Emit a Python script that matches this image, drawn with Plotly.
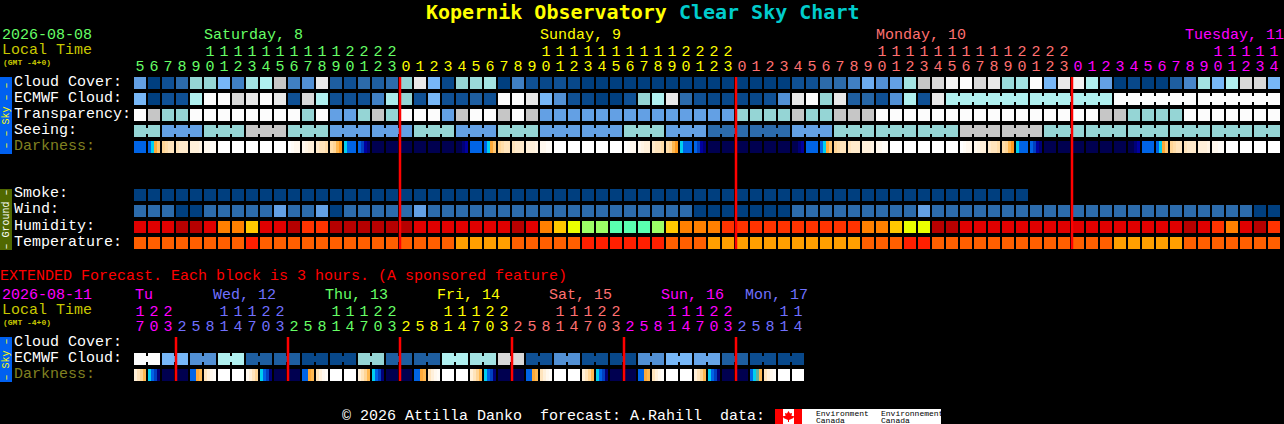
import numpy as np
import plotly.graph_objects as go

# chart values. cloud style rows are percent cloud
CLOUD = [40, 0, 10, 20, 60, 60, 50, 30, 65, 70,
         80, 30, 35, 90, 15, 10, 20, 15, 20, 60,
         90, 50, 5, 60, 62, 65, 0, 30, 10, 5,
         10, 5, 0, 0, 0, 0, 0, 0, 0, 0,
         0, 0, 0, 0, 0, 0, 0, 10, 10, 20,
         20, 30, 45, 35, 40, 65, 80, 85, 95, 100,
         85, 90, 62, 65, 100, 50, 90, 95, 70, 40,
         0, 5, 0, 0, 15, 32, 65, 50, 70, 85, 85, 50]
ECMWF = [50, 0, 10, 10, 70, 100, 100, 85, 90, 100,
         90, 10, 85, 70, 10, 10, 10, 30, 68, 60,
         10, 50, 10, 10, 15, 10, 100, 100, 90, 50,
         35, 10, 5, 0, 0, 10, 60, 70, 90, 20,
         10, 5, 5, 5, 5, 10, 35, 90, 100, 60,
         90, 15, 18, 10, 35, 70, 10, 90, 70, 70,
         70, 70, 70, 70, 70, 70, 70, 70, 70, 70,
         100, 100, 100, 100, 100, 100, 100, 100, 100, 100, 100, 100]
ECMWF_GROUPS = [1] * 58 + [6, 6, 6, 6]
TRANSPARENCY = [100, 80, 60, 60, 100, 100, 100, 100, 100, 100,
                100, 100, 60, 100, 40, 40, 60, 80, 60, 100,
                100, 100, 40, 80, 100, 100, 80, 100, 80, 40,
                40, 40, 40, 40, 40, 40, 40, 40, 40, 40,
                40, 40, 40, 60, 60, 60, 60, 80, 60, 60,
                80, 80, 80, 100, 100, 100, 100, 100, 100, 100,
                100, 100, 100, 100, 100, 100, 100, 100, 100, 80,
                80, 60, 60, 60, 60, 100, 100, 100, 100, 100, 100, 100]
SEEING = [60, 40, 60, 80, 60, 40, 40,
          60, 40, 60, 40, 40, 60, 40,
          20, 20, 40, 60, 60, 60, 80,
          80, 60, 60, 60, 60, 60, 60]
SEEING_GROUPS = [2] + [3] * 26 + [2]
SMOKE = [0] * 64 + [None] * 18
WIND = [20, 20, 20, 0, 0, 20, 20, 20, 20, 20,
        40, 20, 20, 40, 0, 20, 20, 20, 20, 20,
        40, 20, 20, 20, 20, 20, 20, 20, 20, 20,
        20, 20, 20, 20, 20, 20, 20, 20, 20, 20,
        0, 0, 0, 0, 0, 0, 0, 20, 20, 20,
        20, 20, 20, 20, 20, 20, 40, 20, 20, 20,
        20, 20, 20, 20, 20, 20, 20, 20, 20, 20,
        20, 20, 20, 20, 20, 20, 20, 20, 20, 20, 0, 0]
HUMIDITY = [92, 92, 92, 97, 97, 92, 82, 82, 77, 92,
            92, 97, 87, 87, 97, 97, 97, 97, 97, 97,
            92, 92, 92, 92, 92, 92, 92, 97, 92, 82,
            77, 72, 67, 67, 62, 62, 62, 67, 77, 82,
            82, 82, 87, 87, 87, 87, 87, 87, 87, 87,
            87, 87, 82, 82, 77, 72, 72, 97, 97, 92,
            92, 92, 92, 92, 92, 92, 92, 92, 92, 92,
            92, 92, 92, 92, 92, 97, 92, 87, 82, 92, 97, 87]
TEMPERATURE = [25, 25, 25, 25, 25, 25, 25, 25, 29, 25,
               25, 25, 25, 25, 25, 25, 25, 25, 25, 25,
               25, 25, 25, 21, 21, 21, 21, 25, 25, 25,
               25, 25, 29, 29, 29, 29, 29, 29, 25, 25,
               25, 21, 21, 21, 21, 21, 21, 21, 21, 21,
               21, 21, 25, 25, 25, 29, 29, 25, 25, 25,
               25, 25, 25, 25, 25, 25, 25, 25, 25, 25,
               21, 21, 21, 21, 21, 25, 25, 25, 25, 25, 25, 25]
# limiting magnitude, four readings across each block
DARKNESS = [(4, 4, 4, 4), (4, 3, 1.5, 0.5), (0, -0.5, -1, -1), (-1, -1.5, -1.5, -1.5), (-2, -2, -2, -2.5),
            (-3, -3, -3.5, -3.5), (-4, -4, -4, -4), (-4, -4, -4, -4), (-4, -4, -4, -4), (-4, -4, -4, -4),
            (-4, -4, -4, -4), (-4, -3.5, -3, -3), (-3, -2.5, -2, -2), (-1.5, -1, -1, -0.5), (-0.5, 0, 1, 2),
            (3, 4, 4, 4), (4, 4.5, 5, 5.5), (6, 6, 6, 6), (6, 6, 6, 6), (6, 6, 6, 6),
            (6, 6, 6, 6), (6, 6, 6, 6), (6, 6, 6, 6), (6, 6, 5.5, 5), (4, 4, 4, 4),
            (4, 3, 1.5, 0.5), (0, -0.5, -1, -1), (-1, -1.5, -1.5, -1.5), (-2, -2, -2, -2.5), (-3, -3, -3.5, -3.5),
            (-4, -4, -4, -4), (-4, -4, -4, -4), (-4, -4, -4, -4), (-4, -4, -4, -4), (-4, -4, -4, -4),
            (-4, -3.5, -3, -3), (-3, -2.5, -2, -2), (-1.5, -1, -1, -0.5), (-0.5, 0, 1, 2), (3, 4, 4, 4),
            (4, 4.5, 5, 5.5), (6, 6, 6, 6), (6, 6, 6, 6), (6, 6, 6, 6), (6, 6, 6, 6),
            (6, 6, 6, 6), (6, 6, 6, 6), (6, 6, 5.5, 5), (4, 4, 4, 4), (4, 3, 1.5, 0.5),
            (0, -0.5, -1, -1), (-1, -1.5, -1.5, -1.5), (-2, -2, -2, -2.5), (-3, -3, -3.5, -3.5), (-4, -4, -4, -4),
            (-4, -4, -4, -4), (-4, -4, -4, -4), (-4, -4, -4, -4), (-4, -4, -4, -4), (-4, -3.5, -3, -3),
            (-3, -2.5, -2, -2), (-1.5, -1, -1, -0.5), (-0.5, 0, 1, 2), (3, 4, 4, 4), (4, 4.5, 5, 5.5),
            (6, 6, 6, 6), (6, 6, 6, 6), (6, 6, 6, 6), (6, 6, 6, 6), (6, 6, 6, 6),
            (6, 6, 6, 6), (6, 6, 5.5, 5), (4, 4, 4, 4), (4, 3, 1.5, 0.5), (0, -0.5, -1, -1),
            (-1, -1.5, -1.5, -1.5), (-2, -2, -2, -2.5), (-3, -3, -3.5, -3.5), (-4, -4, -4, -4), (-4, -4, -4, -4),
            (-4, -4, -4, -4), (-4, -4, -4, -4)]
HOURS = [5, 6, 7, 8, 9, 10, 11, 12, 13, 14, 15, 16, 17, 18, 19, 20, 21, 22, 23,
         0, 1, 2, 3, 4, 5, 6, 7, 8, 9, 10, 11, 12, 13, 14, 15, 16, 17, 18, 19, 20, 21, 22, 23,
         0, 1, 2, 3, 4, 5, 6, 7, 8, 9, 10, 11, 12, 13, 14, 15, 16, 17, 18, 19, 20, 21, 22, 23,
         0, 1, 2, 3, 4, 5, 6, 7, 8, 9, 10, 11, 12, 13, 14]
DAY_LENGTHS = [19, 24, 24, 15]
DAY_COLORS = ["#66ff66", "#ffff00", "#ff7070", "#ff00ff"]
DAY_NAMES = ["Saturday, 8", "Sunday, 9", "Monday, 10", "Tuesday, 11"]
DAY_NAME_PX = [204, 540, 876, 1185]
MIDNIGHTS = [19, 43, 67]

EXT_ECMWF = [100, 50, 35, 70, 15, 15, 5, 5, 60, 15, 15, 70,
             65, 85, 10, 35, 8, 5, 35, 50, 42, 15, 8, 5]
EXT_GROUPS = [2] * 24
EXT_DARKNESS = [(-2, -1, 0, 1), (3, 4, 4.5, 5.5), (6, 6, 6, 6), (6, 6, 6, 6), (4, 4, 1.5, 1), (-1, -2, -3, -3.5), (-4, -4, -4, -4), (-4, -4, -4, -4),
                (-3, -2, -1, 0), (3, 4, 4.5, 5.5), (6, 6, 6, 6), (6, 6, 6, 6), (4, 4, 1.5, 1), (-1, -2, -3, -3.5), (-4, -4, -4, -4), (-4, -4, -4, -4),
                (-2, -1, 0, 1), (3, 4, 4.5, 5.5), (6, 6, 6, 6), (6, 6, 6, 6), (4, 4, 1.5, 1), (-1, -2, -3, -3.5), (-4, -4, -4, -4), (-4, -4, -4, -4),
                (-2, -1, 0, 1), (3, 4, 4.5, 5.5), (6, 6, 6, 6), (6, 6, 6, 6), (4, 4, 1.5, 1), (-1, -2, -3, -3.5), (-4, -4, -4, -4), (-4, -4, -4, -4),
                (-2, -1, 0, 1), (3, 4, 4.5, 5.5), (6, 6, 6, 6), (6, 6, 6, 6), (4, 4, 1.5, 1), (-1, -2, -3, -3.5), (-4, -4, -4, -4), (-4, -4, -4, -4),
                (-2, -1, 0, 1), (3, 4, 4.5, 5.5), (6, 6, 6, 6), (6, 6, 6, 6), (4, 3, 2.5, 1), (-1, -2, -3, -3.5), (-4, -4, -4, -4), (-4, -4, -4, -4)]
EXT_HOURS = [17, 20, 23,
             2, 5, 8, 11, 14, 17, 20, 23,
             2, 5, 8, 11, 14, 17, 20, 23,
             2, 5, 8, 11, 14, 17, 20, 23,
             2, 5, 8, 11, 14, 17, 20, 23,
             2, 5, 8, 11, 14, 17, 20, 23,
             2, 5, 8, 11, 14]
EXT_DAY_LENGTHS = [3, 8, 8, 8, 8, 8, 5]
EXT_DAY_COLORS = ["#ff00ff", "#7070ff", "#66ff66", "#ffff00", "#ff7070", "#ff00ff", "#7070ff"]
EXT_DAY_NAMES = ["Tu", "Wed, 12", "Thu, 13", "Fri, 14", "Sat, 15", "Sun, 16", "Mon, 17"]
EXT_DAY_NAME_PX = [135, 213, 325, 437, 549, 661, 745]
EXT_MIDNIGHTS = [3, 11, 19, 27, 35, 43]

SKY_SCALE = [[0.0, "#003f7f"], [0.1, "#0f5094"], [0.2, "#2c6bab"], [0.3, "#4080c4"], [0.4, "#63a0e4"],
             [0.5, "#77b7f7"], [0.6, "#95d5d5"], [0.7, "#b0f0f0"], [0.8, "#c6c6c6"], [0.9, "#e9e9e9"], [1.0, "#fcfcfc"]]
HUMIDITY_STOPS = [(62, "#5affb0"), (67, "#9cff66"), (72, "#eaff00"), (77, "#ffc800"),
                  (82, "#ff8000"), (87, "#ff3300"), (92, "#e00000"), (97, "#b60000")]
TEMPERATURE_STOPS = [(21, "#ff9f00"), (25, "#ff5f00"), (29, "#ff1f00")]
DARKNESS_STOPS = [(-4, "#ffffff"), (-3, "#fff8ee"), (-2, "#fff0da"), (-1, "#ffe4bc"), (0, "#ffd596"),
                  (1, "#ffb850"), (2, "#ff9a20"), (2.5, "#60b0a0"), (3, "#00d0f0"), (3.5, "#0090f0"),
                  (4, "#0064e6"), (4.5, "#0040c0"), (5, "#0000a0"), (5.5, "#000078"), (6, "#000050")]

WIDTH = 1284
HEIGHT = 424
FONT = "Liberation Mono"
TITLE_FONT = "DejaVu Sans Mono"
PITCH = 14        # block pitch, pixels
ROW_H = 16        # row pitch, pixels
FIRST_X = 140     # centre of the first block, pixels
FIRST_Y = 83      # centre of the first row, pixels


def to_row(py):
    return (py - FIRST_Y) / ROW_H


def to_block(px):
    return (px - FIRST_X) / PITCH


def stops_to_scale(stops):
    low, high = stops[0][0], stops[-1][0]
    return [[(v - low) / (high - low), c] for v, c in stops], low, high


def block_row(fig, values, row, scale, zmin, zmax, groups=None):
    # one heatmap per row, one cell per pixel so blocks stay crisp
    # values may hold a number per block or a tuple of readings across a block
    z = np.full((12, 14 * len(values)), np.nan)
    for i, value in enumerate(values):
        if value is None:
            continue
        readings = value if isinstance(value, tuple) else (value,)
        for j in range(12):
            z[:, i * 14 + j] = readings[j * len(readings) // 12]
    if groups:
        # blocks of one forecast step are joined by a short bridge
        start = 0
        for size in groups:
            for i in range(start, start + size - 1):
                z[3:9, i * 14 + 12:i * 14 + 14] = values[i]
            start += size
    fig.add_trace(go.Heatmap(
        z=z,
        x0=-5.5 / PITCH,
        dx=1 / PITCH,
        y0=row - 5.5 / ROW_H,
        dy=1 / ROW_H,
        colorscale=scale,
        zmin=zmin,
        zmax=zmax,
        showscale=False,
        hoverinfo="skip",
    ))


def expand(values, groups):
    out = []
    for value, size in zip(values, groups):
        out += [value] * size
    return out


def label(fig, px, py, text, color, size=15, bold=False, angle=0, anchor="left", family=FONT):
    if bold:
        text = "<b>" + text + "</b>"
    if anchor == "left":
        px -= 1
    fig.add_annotation(
        x=px / WIDTH,
        y=1 - py / HEIGHT,
        xref="paper",
        yref="paper",
        text=text,
        showarrow=False,
        xanchor=anchor,
        yanchor="middle",
        textangle=angle,
        borderpad=0,
        font=dict(family=family, size=size, color=color),
    )


def hour_digits(fig, hours, day_lengths, day_colors, tens_py, units_py):
    colors = []
    for n, c in zip(day_lengths, day_colors):
        colors += [c] * n
    blocks = list(range(len(hours)))
    fig.add_trace(go.Scatter(
        x=blocks,
        y=[to_row(tens_py + 2)] * len(hours),
        mode="text",
        text=[str(h // 10) if h >= 10 else "" for h in hours],
        textposition="middle center",
        textfont=dict(family=FONT, size=15, color=colors),
        hoverinfo="skip",
    ))
    fig.add_trace(go.Scatter(
        x=blocks,
        y=[to_row(units_py + 2)] * len(hours),
        mode="text",
        text=[str(h % 10) for h in hours],
        textposition="middle center",
        textfont=dict(family=FONT, size=15, color=colors),
        hoverinfo="skip",
    ))


def midnight_lines(fig, midnights, top_py, bottom_py):
    xs, ys = [], []
    for m in midnights:
        xs += [m - 0.5 + 1 / PITCH, m - 0.5 + 1 / PITCH, None]
        ys += [to_row(top_py), to_row(bottom_py), None]
    fig.add_trace(go.Scatter(x=xs, y=ys, mode="lines", line=dict(color="#ff0000", width=2.5), hoverinfo="skip"))


def rect(fig, x0, y0, x1, y1, color):
    fig.add_shape(type="rect", xref="paper", yref="paper", layer="below",
                  x0=x0 / WIDTH, x1=x1 / WIDTH, y0=1 - y0 / HEIGHT, y1=1 - y1 / HEIGHT,
                  fillcolor=color, line=dict(width=0))


fig = go.Figure()

humidity_scale, hum_low, hum_high = stops_to_scale(HUMIDITY_STOPS)
temp_scale, temp_low, temp_high = stops_to_scale(TEMPERATURE_STOPS)
dark_scale, dark_low, dark_high = stops_to_scale(DARKNESS_STOPS)

# main forecast
block_row(fig, CLOUD, 0, SKY_SCALE, 0, 100)
block_row(fig, ECMWF, 1, SKY_SCALE, 0, 100, ECMWF_GROUPS)
block_row(fig, TRANSPARENCY, 2, SKY_SCALE, 0, 100)
block_row(fig, expand(SEEING, SEEING_GROUPS), 3, SKY_SCALE, 0, 100, SEEING_GROUPS)
block_row(fig, DARKNESS, 4, dark_scale, dark_low, dark_high)
block_row(fig, SMOKE, 7, SKY_SCALE, 0, 100)
block_row(fig, WIND, 8, SKY_SCALE, 0, 100)
block_row(fig, HUMIDITY, 9, humidity_scale, hum_low, hum_high)
block_row(fig, TEMPERATURE, 10, temp_scale, temp_low, temp_high)

# extended forecast
block_row(fig, expand(EXT_ECMWF, EXT_GROUPS), to_row(359), SKY_SCALE, 0, 100, EXT_GROUPS)
block_row(fig, EXT_DARKNESS, to_row(375), dark_scale, dark_low, dark_high)

midnight_lines(fig, MIDNIGHTS, 77, 249)
midnight_lines(fig, EXT_MIDNIGHTS, 337, 381)
hour_digits(fig, HOURS, DAY_LENGTHS, DAY_COLORS, 50, 65)
hour_digits(fig, EXT_HOURS, EXT_DAY_LENGTHS, EXT_DAY_COLORS, 310, 325)

# title
label(fig, 426, 12,
      '<span style="color:#ffff00">Kopernik Observatory</span> <span style="color:#00cccc">Clear Sky Chart</span>',
      "#ffff00", size=20, bold=True, family=TITLE_FONT)

# left hand header texts
label(fig, 2, 35.5, "2026-08-08", "#66ff66")
label(fig, 2, 50.5, "Local Time", "#c8c800")
label(fig, 3, 62, "(GMT -4+0)", "#c8c800", size=8, bold=True)
for name, px, color in zip(DAY_NAMES, DAY_NAME_PX, DAY_COLORS):
    label(fig, px, 35.5, name, color)

label(fig, 2, 295.5, "2026-08-11", "#ff00ff")
label(fig, 2, 310.5, "Local Time", "#c8c800")
label(fig, 3, 322, "(GMT -4+0)", "#c8c800", size=8, bold=True)
for name, px, color in zip(EXT_DAY_NAMES, EXT_DAY_NAME_PX, EXT_DAY_COLORS):
    label(fig, px, 295.5, name, color)

# row names
for py, text, color in [(82, "Cloud Cover:", "#ffffff"), (98, "ECMWF Cloud:", "#ffffff"),
                        (114, "Transparency:", "#ffffff"), (130, "Seeing:", "#ffffff"),
                        (146, "Darkness:", "#808020"), (194, "Smoke:", "#ffffff"),
                        (210, "Wind:", "#ffffff"), (226, "Humidity:", "#ffffff"),
                        (242, "Temperature:", "#ffffff"), (342, "Cloud Cover:", "#ffffff"),
                        (358, "ECMWF Cloud:", "#ffffff"), (374, "Darkness:", "#808020")]:
    label(fig, 14, py, text, color)

# side tabs
rect(fig, 0, 77, 12, 154, "#0060f0")
rect(fig, 0, 189, 12, 250, "#506800")
rect(fig, 0, 337, 12, 382, "#0060f0")
label(fig, 6, 115.5, "\u2013 \u2013 Sky \u2013 \u2013", "#ffff00", size=10, angle=-90, anchor="center")
label(fig, 6, 219.5, "\u2013 Ground \u2013", "#ffffff", size=10, angle=-90, anchor="center")
label(fig, 6, 359.5, "\u2013 Sky \u2013", "#ffff00", size=10, angle=-90, anchor="center")

label(fig, 0, 276, "EXTENDED Forecast. Each block is 3 hours. (A sponsored feature)", "#ff0000")

# footer and data source logo
label(fig, 342, 416, "© 2026 Attilla Danko\u00a0 forecast: A.Rahill\u00a0 data:", "#ffffff")
rect(fig, 775, 409, 941, 424, "#ffffff")
rect(fig, 775, 409, 783, 424, "#ff0000")
rect(fig, 794, 409, 802, 424, "#ff0000")
leaf = [(788.5, 411), (790, 413.5), (792, 413), (791.5, 416), (794, 416), (793.5, 418), (789, 420),
        (789, 422), (788, 422), (788, 420), (783.5, 418), (783, 416), (785.5, 416), (785, 413), (787, 413.5)]
leaf_path = "M " + " L ".join(f"{x / WIDTH:.5f},{1 - y / HEIGHT:.5f}" for x, y in leaf) + " Z"
fig.add_shape(type="path", path=leaf_path, xref="paper", yref="paper", fillcolor="#ff0000", line=dict(width=0))
label(fig, 816, 413, "Environment", "#000000", size=8)
label(fig, 816, 420.5, "Canada", "#000000", size=8)
label(fig, 881, 413, "Environnement", "#000000", size=8)
label(fig, 881, 420.5, "Canada", "#000000", size=8)

fig.update_xaxes(visible=False, fixedrange=True, range=[to_block(0), to_block(WIDTH)])
fig.update_yaxes(visible=False, fixedrange=True, range=[to_row(HEIGHT), to_row(0)])
fig.update_layout(
    width=WIDTH,
    height=HEIGHT,
    autosize=False,
    showlegend=False,
    paper_bgcolor="#000000",
    plot_bgcolor="#000000",
    margin=dict(l=0, r=0, t=0, b=0, pad=0),
    font=dict(family=FONT),
)

fig.write_html("out.html", config={"displayModeBar": False},
               post_script="document.body.style.margin='0';document.body.style.overflow='hidden';")
